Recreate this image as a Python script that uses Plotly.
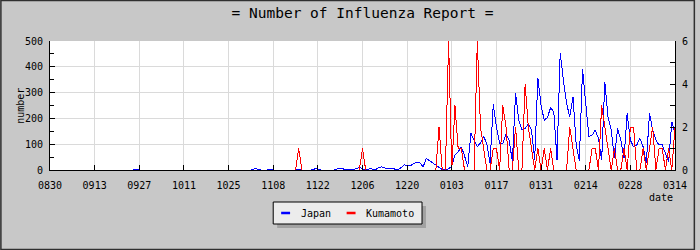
import pandas as pd
import plotly.graph_objects as go

# ---------------- data ----------------
start_date = "2010-08-30"
end_date = "2011-03-14"
dates = pd.date_range(start_date, end_date, freq="D")  # 197 daily points

tick_dates = dates[::14]
tick_labels = [d.strftime("%m%d") for d in tick_dates]

japan = [
    0, 0, 0, 0, 0, 0, 0, 0, 0, 0,
    0, 0, 0, 0, 0, 0, 0, 0, 0, 0,
    0, 0, 0, 0, 0, 0, 0, 4, 0, 0,
    0, 0, 0, 0, 0, 0, 0, 0, 0, 0,
    0, 0, 0, 0, 0, 0, 0, 0, 0, 0,
    0, 0, 0, 0, 0, 0, 0, 0, 0, 0,
    0, 0, 0, 0, 4, 4, 0, 0, 0, 4,
    0, 0, 0, 0, 0, 0, 0, 0, 4, 0,
    0, 0, 0, 4, 4, 0, 0, 0, 0, 0,
    4, 4, 4, 0, 4, 0, 4, 10, 5, 0,
    4, 4, 0, 10, 12, 8, 4, 5, 4, 0,
    8, 20, 18, 17, 24, 30, 28, 12, 45, 38,
    28, 19, 9, 2, 2, 4, 15, 58, 70, 90,
    55, 13, 142, 115, 90, 105, 131, 100, 26, 254,
    168, 103, 103, 139, 116, 32, 298, 193, 155, 161,
    178, 155, 40, 357, 250, 193, 204, 242, 225, 40,
    455, 348, 258, 206, 284, 100, 35, 390, 245, 129,
    135, 155, 122, 39, 342, 206, 155, 45, 161, 116,
    45, 219, 116, 90, 97, 122, 90, 26, 219, 155,
    116, 97, 97, 64, 32, 187, 142,
]

kumamoto = [
    0, 0, 0, 0, 0, 0, 0, 0, 0, 0,
    0, 0, 0, 0, 0, 0, 0, 0, 0, 0,
    0, 0, 0, 0, 0, 0, 0, 0, 0, 0,
    0, 0, 0, 0, 0, 0, 0, 0, 0, 0,
    0, 0, 0, 0, 0, 0, 0, 0, 0, 0,
    0, 0, 0, 0, 0, 0, 0, 0, 0, 0,
    0, 0, 0, 0, 0, 0, 0, 0, 0, 0,
    0, 0, 0, 0, 0, 0, 0, 0, 1, 0,
    0, 0, 0, 0, 0, 0, 0, 0, 0, 0,
    0, 0, 0, 0, 0, 0, 0, 0, 1, 0,
    0, 0, 0, 0, 0, 0, 0, 0, 0, 0,
    0, 0, 0, 0, 0, 0, 0, 0, 0, 0,
    0, 0, 2, 0, 0, 6, 0, 3, 1, 1,
    0, 0, 0, 0, 6, 2, 1, 0, 0, 1,
    1, 0, 3, 2, 0, 0, 2, 0, 0, 4,
    2, 1, 0, 1, 0, 1, 0, 1, 0, 0,
    0, 0, 0, 2, 1, 0, 0, 0, 0, 0,
    1, 1, 0, 3, 2, 1, 0, 1, 0, 0,
    1, 0, 2, 2, 0, 0, 1, 0, 1, 2,
    0, 1, 1, 0, 1, 0, 2,
]

series_names = ["Japan", "Kumamoto"]
series_colors = ["#0000ff", "#ff0000"]

# ---------------- layout geometry ----------------
W, H = 700, 250
ML, MR, MT, MB = 50, 20, 41, 80
PW, PH = W - ML - MR, H - MT - MB
MONO = "DejaVu Sans Mono"


def px(x):
    return (x - ML) / PW


def py(y):
    return (H - MB - y) / PH


fig = go.Figure()
fig.add_trace(go.Scatter(x=dates, y=japan, mode="lines", name=series_names[0],
                         line=dict(color=series_colors[0], width=1), yaxis="y",
                         showlegend=False))
fig.add_trace(go.Scatter(x=dates, y=kumamoto, mode="lines", name=series_names[1],
                         line=dict(color=series_colors[1], width=1), yaxis="y2",
                         showlegend=False))

axis_font = dict(family=MONO, size=10, color="black")

fig.update_layout(
    width=W, height=H,
    margin=dict(l=ML, r=MR, t=MT, b=MB, pad=0),
    paper_bgcolor="#c8c8c8",
    plot_bgcolor="white",
    title=dict(text="= Number of Influenza Report =", x=0.5, xref="paper",
               xanchor="center", y=1 - 13 / H, yanchor="middle",
               font=dict(family=MONO, size=14.5, color="black")),
    xaxis=dict(
        range=[dates[0], dates[-1]],
        tickmode="array", tickvals=tick_dates, ticktext=tick_labels,
        ticks="inside", ticklen=5, tickcolor="black", tickwidth=1,
        showline=True, linecolor="black", linewidth=1,
        showgrid=True, gridcolor="#dadada", gridwidth=1,
        tickfont=axis_font, ticklabelstandoff=6, zeroline=False,
    ),
    yaxis=dict(
        range=[0, 500], dtick=100, tick0=0,
        ticks="inside", ticklen=5, tickcolor="black", tickwidth=1,
        minor=dict(dtick=50, ticks="inside", ticklen=4, tickcolor="black", showgrid=False),
        showline=True, linecolor="black", linewidth=1,
        showgrid=True, gridcolor="#dadada", gridwidth=1,
        tickfont=axis_font, ticklabelstandoff=4, zeroline=False,
    ),
    yaxis2=dict(
        range=[0, 6], dtick=2, tick0=0, overlaying="y", side="right",
        ticks="inside", ticklen=5, tickcolor="black", tickwidth=1,
        minor=dict(dtick=1, ticks="inside", ticklen=5, tickcolor="black", showgrid=False),
        showline=True, linecolor="black", linewidth=1,
        showgrid=False, tickfont=axis_font, ticklabelstandoff=4, zeroline=False,
    ),
    showlegend=False,
)

annotations = [
    dict(text="number", x=px(20), y=0.5, xref="paper", yref="paper",
         textangle=-90, showarrow=False, xanchor="center", yanchor="middle",
         font=axis_font),
    dict(text="date", x=px(680), y=py(197), xref="paper", yref="paper",
         showarrow=False, xanchor="right", yanchor="middle", font=axis_font),
]

# legend (drawn by hand to match the small line samples)
LX0, LX1, LY0, LY1 = 275, 425, 202, 224
shapes = [
    dict(type="rect", xref="paper", yref="paper", x0=px(LX0 + 4), x1=px(LX1 + 4),
         y0=py(LY0 + 4), y1=py(LY1 + 4), fillcolor="#a2a2a2", line=dict(width=0),
         layer="above"),
    dict(type="rect", xref="paper", yref="paper", x0=px(LX0), x1=px(LX1),
         y0=py(LY0), y1=py(LY1), fillcolor="#ececec",
         line=dict(color="black", width=1), layer="above"),
    # outer frame of the picture
    dict(type="rect", xref="paper", yref="paper", x0=px(0.5), x1=px(W - 0.5),
         y0=py(0.5), y1=py(H - 0.5), line=dict(color="#303030", width=1.5),
         layer="above"),
]
ly = (LY0 + LY1) / 2
legend_items = [(283, 301), (349, 367)]
for (sx, tx), name, color in zip(legend_items, series_names, series_colors):
    shapes.append(dict(type="line", xref="paper", yref="paper", x0=px(sx), x1=px(sx + 9),
                       y0=py(ly), y1=py(ly), line=dict(color=color, width=2.5),
                       layer="above"))
    annotations.append(dict(text=name, x=px(tx), y=py(ly), xref="paper", yref="paper",
                            showarrow=False, xanchor="left", yanchor="middle",
                            font=axis_font))

fig.update_layout(annotations=annotations, shapes=shapes)

post = (
    "document.body.style.margin='0';"
    "document.body.style.overflow='hidden';"
    "document.querySelectorAll('.scatterlayer path.js-line').forEach("
    "function(p){p.setAttribute('shape-rendering','crispEdges');});"
)
fig.write_html("out.html", config={"displayModeBar": False}, post_script=post)
